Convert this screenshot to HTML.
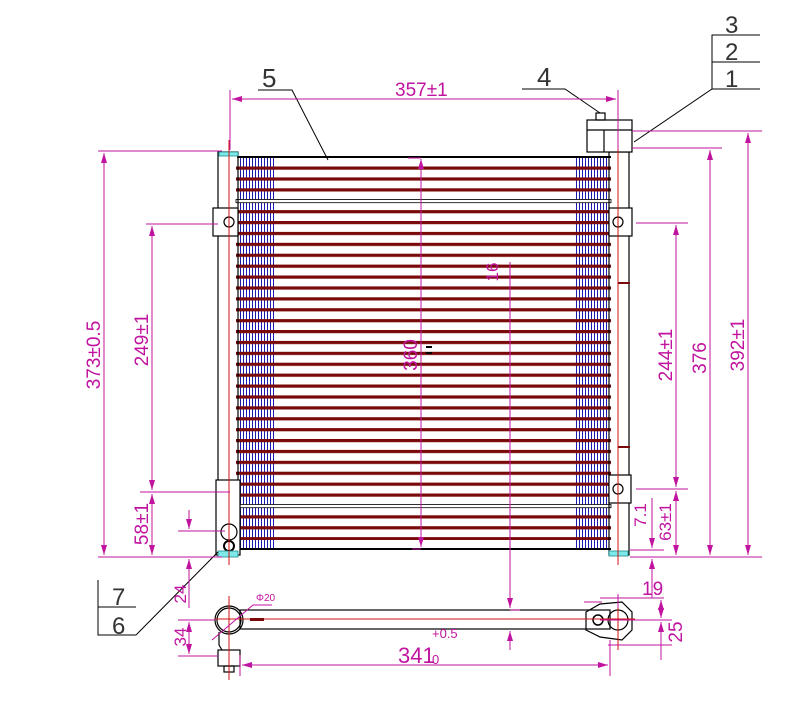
<!DOCTYPE html>
<html><head><meta charset="utf-8"><style>
html,body{margin:0;padding:0;background:#fff;width:798px;height:717px;overflow:hidden}
svg{display:block}
text{font-family:"Liberation Sans",sans-serif;fill:#c0139f}
</style></head><body>
<svg width="798" height="717" viewBox="0 0 798 717" xmlns="http://www.w3.org/2000/svg">
<defs>
<pattern id="tubes" patternUnits="userSpaceOnUse" x="0" y="166.5" width="400" height="10.9">
<rect x="0" y="0" width="400" height="3.2" fill="#7a0a0a"/>
</pattern>
<pattern id="fins" patternUnits="userSpaceOnUse" x="240" y="0" width="3" height="10">
<rect x="0" y="0" width="1" height="10" fill="#1a1ab0"/>
</pattern>
<marker id="a" viewBox="0 0 10 6" refX="10" refY="3" markerWidth="10" markerHeight="6" orient="auto-start-reverse" markerUnits="userSpaceOnUse"><path d="M0,0 L10,3 L0,6 z" fill="#c0139f"/></marker>
</defs>

<rect x="240" y="158" width="34" height="390" fill="url(#fins)"/>
<rect x="575" y="158" width="34" height="390" fill="url(#fins)"/>
<rect x="236" y="166" width="375" height="374" fill="url(#tubes)"/>
<rect x="236" y="199.5" width="375" height="3.2" fill="#fff" stroke="#000" stroke-width="0.8"/>
<rect x="236" y="504.5" width="375" height="3.2" fill="#fff" stroke="#000" stroke-width="0.8"/>
<line x1="237" y1="157" x2="611" y2="157" stroke="#000" stroke-width="2"/>
<line x1="237" y1="549" x2="611" y2="549" stroke="#000" stroke-width="2"/>

<g fill="none" stroke="#000" stroke-width="1.2">
<rect x="218" y="152" width="20" height="403"/>
<rect x="213" y="208" width="25" height="28" fill="#fff"/>
<circle cx="229" cy="222" r="5"/>
<rect x="216" y="480" width="24" height="75" fill="#fff"/>
<circle cx="229" cy="532" r="8"/>
<circle cx="229" cy="546" r="5" stroke-width="2"/>
<rect x="609" y="152" width="20" height="403"/>
<rect x="609" y="208" width="23" height="28" fill="#fff"/>
<circle cx="618" cy="222" r="5"/>
<rect x="609" y="475" width="22" height="28" fill="#fff"/>
<circle cx="618" cy="489" r="5"/>
<rect x="587" y="120" width="45" height="32" fill="#fff"/>
<line x1="604" y1="130" x2="604" y2="152"/>
<line x1="587" y1="130" x2="632" y2="130"/>
<rect x="596" y="113" width="9" height="7"/>
<rect x="240" y="610" width="370" height="19"/>
<circle cx="229" cy="620" r="12"/>
<circle cx="229" cy="620" r="14"/>
<rect x="218" y="650" width="22" height="16"/>
<rect x="224" y="666" width="10" height="6"/>
<path d="M219,632 L219,645 L222,650"/>
<path d="M586,612 L600,604 L622,602 L632,612 L632,630 L622,640 L600,637 L586,630 z"/>
<circle cx="618" cy="620" r="10"/>
<circle cx="598" cy="620" r="5" stroke-width="1.5"/>
</g>
<g fill="#7fe8e8" stroke="#1a8c8c" stroke-width="0.8">
<rect x="219" y="152" width="19" height="4"/>
<rect x="218" y="551" width="20" height="6"/>
<rect x="609" y="551" width="19" height="5"/>
</g>
<g stroke="#d01010" stroke-width="1" fill="none">
<line x1="229" y1="140" x2="229" y2="565"/>
<line x1="618" y1="140" x2="618" y2="565"/>
<line x1="215" y1="619" x2="635" y2="619"/>
<line x1="229" y1="596" x2="229" y2="680"/>
<line x1="618" y1="600" x2="618" y2="650"/>
</g>
<rect x="250" y="618" width="14" height="3" fill="#7a0a0a"/>
<rect x="618" y="282" width="12" height="2" fill="#7a0a0a"/>
<rect x="618" y="446" width="12" height="2" fill="#7a0a0a"/>

<g stroke="#000" stroke-width="1" fill="none">
<path d="M258,90 L292,90 L328,160"/>
<path d="M522,89 L565,89 L600,113"/>
<path d="M634,142 L712,89 L760,89 M712,89 L712,35 L760,35 M712,62 L760,62"/>
<path d="M136,635 L98,635 L98,580 M98,607 L136,607 M136,635 L218,552"/>
</g>
<g font-size="26">
<text x="262" y="87" style="fill:#333">5</text>
<text x="537" y="86" style="fill:#333">4</text>
<text x="725" y="33" style="fill:#333;font-size:24px">3</text>
<text x="725" y="60" style="fill:#333;font-size:24px">2</text>
<text x="725" y="87" style="fill:#333;font-size:24px">1</text>
<text x="112" y="605" style="fill:#333;font-size:24px">7</text>
<text x="112" y="634" style="fill:#333;font-size:24px">6</text>
</g>

<g stroke="#c0139f" stroke-width="1" fill="none">
<line x1="230" y1="90" x2="230" y2="150"/>
<line x1="618" y1="90" x2="618" y2="150"/>
<line x1="232" y1="99" x2="616" y2="99" marker-start="url(#a)" marker-end="url(#a)"/>
<line x1="98" y1="151" x2="222" y2="151"/>
<line x1="98" y1="557" x2="222" y2="557"/>
<line x1="104" y1="153" x2="104" y2="555" marker-start="url(#a)" marker-end="url(#a)"/>
<line x1="146" y1="224" x2="218" y2="224"/>
<line x1="140" y1="492" x2="230" y2="492"/>
<line x1="152" y1="226" x2="152" y2="490" marker-start="url(#a)" marker-end="url(#a)"/>
<line x1="152" y1="494" x2="152" y2="555" marker-start="url(#a)" marker-end="url(#a)"/>
<line x1="178" y1="531" x2="225" y2="531"/>
<line x1="189" y1="510" x2="189" y2="529" marker-end="url(#a)"/>
<line x1="189" y1="559" x2="189" y2="608" marker-start="url(#a)"/>
<line x1="178" y1="620" x2="215" y2="620"/>
<line x1="178" y1="656" x2="218" y2="656"/>
<line x1="189" y1="622" x2="189" y2="654" marker-start="url(#a)" marker-end="url(#a)"/>
<line x1="421" y1="159" x2="421" y2="547" marker-start="url(#a)" marker-end="url(#a)"/>
<line x1="408" y1="158" x2="421" y2="158"/>
<line x1="412" y1="549" x2="421" y2="549"/>
<line x1="510" y1="262" x2="510" y2="608" marker-end="url(#a)"/>
<line x1="510" y1="631" x2="510" y2="650" marker-start="url(#a)"/>
<line x1="510" y1="610" x2="520" y2="610"/>
<line x1="632" y1="131" x2="762" y2="131"/>
<line x1="632" y1="148" x2="722" y2="148"/>
<line x1="636" y1="223" x2="688" y2="223"/>
<line x1="636" y1="489" x2="688" y2="489"/>
<line x1="630" y1="557" x2="762" y2="557"/>
<line x1="630" y1="550" x2="664" y2="550"/>
<line x1="676" y1="225" x2="676" y2="487" marker-start="url(#a)" marker-end="url(#a)"/>
<line x1="676" y1="491" x2="676" y2="555" marker-start="url(#a)" marker-end="url(#a)"/>
<line x1="710" y1="150" x2="710" y2="555" marker-start="url(#a)" marker-end="url(#a)"/>
<line x1="748" y1="133" x2="748" y2="555" marker-start="url(#a)" marker-end="url(#a)"/>
<line x1="652" y1="498" x2="652" y2="548" marker-end="url(#a)"/>
<line x1="652" y1="559" x2="652" y2="598" marker-start="url(#a)"/>
<line x1="600" y1="598" x2="664" y2="598"/>
<line x1="584" y1="602" x2="602" y2="602"/>
<line x1="618" y1="594" x2="618" y2="608"/>
<line x1="600" y1="620" x2="672" y2="620"/>
<line x1="608" y1="645" x2="672" y2="645"/>
<line x1="661" y1="600" x2="661" y2="618" marker-start="url(#a)" marker-end="url(#a)"/>
<line x1="661" y1="622" x2="661" y2="660" marker-start="url(#a)"/>
<line x1="242" y1="665" x2="608" y2="665" marker-start="url(#a)" marker-end="url(#a)"/>
<line x1="240" y1="655" x2="240" y2="676"/>
<line x1="610" y1="640" x2="610" y2="676"/>
<path d="M212,640 L253,605 L272,605"/>
</g>
<rect x="426" y="346" width="6" height="2" fill="#000"/>
<rect x="426" y="352" width="6" height="2" fill="#000"/>

<g font-size="18">
<text x="395" y="96" font-size="19">357±1</text>
<text transform="translate(100,355) rotate(-90)" text-anchor="middle" font-size="19">373±0.5</text>
<text transform="translate(148,340) rotate(-90)" text-anchor="middle" font-size="19">249±1</text>
<text transform="translate(148,524) rotate(-90)" text-anchor="middle" font-size="19">58±1</text>
<text transform="translate(186,594) rotate(-90)" text-anchor="middle" font-size="17">24</text>
<text transform="translate(186,637) rotate(-90)" text-anchor="middle" font-size="17">34</text>
<text transform="translate(417,355) rotate(-90)" text-anchor="middle" font-size="19">360</text>
<text transform="translate(498,272) rotate(-90)" text-anchor="middle" font-size="17">16</text>
<text transform="translate(672,355) rotate(-90)" text-anchor="middle" font-size="19">244±1</text>
<text transform="translate(706,358) rotate(-90)" text-anchor="middle" font-size="19">376</text>
<text transform="translate(744,345) rotate(-90)" text-anchor="middle" font-size="19">392±1</text>
<text transform="translate(646,515) rotate(-90)" text-anchor="middle" font-size="17">7.1</text>
<text transform="translate(671,522) rotate(-90)" text-anchor="middle" font-size="17">63±1</text>
<text x="642" y="595" font-size="19">19</text>
<text transform="translate(682,632) rotate(-90)" text-anchor="middle" font-size="19">25</text>
<text x="398" y="663" font-size="22">341</text>
<text x="432" y="638" font-size="13">+0.5</text>
<text x="432" y="664" font-size="13">0</text>
<text x="256" y="601" font-size="10">Φ20</text>
</g>
</svg>
</body></html>
